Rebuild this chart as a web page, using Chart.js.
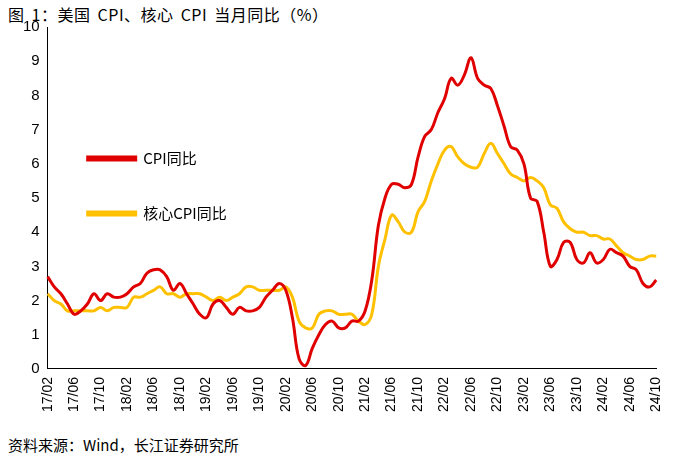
<!DOCTYPE html>
<html lang="zh">
<head>
<meta charset="UTF-8">
<script src="https://cdn.jsdelivr.net/npm/chart.js"></script>
<style>
  body { margin: 0; background: #fff; font-family: "Noto Sans CJK SC", sans-serif; }
  #title { position: absolute; left: 8px; top: 2px; font-size: 16px; color: #000; letter-spacing: 0.5px; word-spacing: 3px; }
  #wrap { position: absolute; left: 0; top: 15px; width: 676px; height: 400px; }
  #src { position: absolute; left: 8px; top: 434px; font-size: 15px; color: #000; }
</style>
</head>
<body>
<div id="title">图 1：美国 CPI、核心 CPI 当月同比（%）</div>
<div id="wrap"><canvas id="c"></canvas></div>
<div id="src">资料来源：Wind，长江证券研究所</div>
<script>
const months = [];
for (let y = 17; y <= 24; y++) for (let m = 1; m <= 12; m++) {
  if ((y === 17 && m < 2) || (y === 24 && m > 10)) continue;
  months.push(y + '/' + String(m).padStart(2, '0'));
}
const cpi = [2.7,2.4,2.2,1.9,1.6,1.7,1.9,2.2,2.0,2.2,2.1,
  2.1,2.2,2.4,2.5,2.8,2.9,2.9,2.7,2.3,2.5,2.2,1.9,
  1.6,1.5,1.9,2.0,1.8,1.6,1.8,1.7,1.7,1.8,2.1,2.3,
  2.5,2.3,1.5,0.3,0.1,0.6,1.0,1.3,1.4,1.2,1.2,1.4,
  1.4,1.7,2.6,4.2,5.0,5.4,5.4,5.3,5.4,6.2,6.8,7.0,
  7.5,7.9,8.5,8.3,8.6,9.1,8.5,8.3,8.2,7.7,7.1,6.5,
  6.4,6.0,5.0,4.9,4.0,3.0,3.2,3.7,3.7,3.2,3.1,3.4,
  3.1,3.2,3.5,3.4,3.3,3.0,2.9,2.5,2.4,2.6];
const core = [2.2,2.0,1.9,1.7,1.7,1.7,1.7,1.7,1.8,1.7,1.8,
  1.8,1.8,2.1,2.1,2.2,2.3,2.4,2.2,2.2,2.1,2.2,2.2,
  2.2,2.1,2.0,2.1,2.0,2.1,2.2,2.4,2.4,2.3,2.3,2.3,
  2.3,2.4,2.1,1.4,1.2,1.2,1.6,1.7,1.7,1.6,1.6,1.6,
  1.4,1.3,1.6,3.0,3.8,4.5,4.3,4.0,4.0,4.6,4.9,5.5,
  6.0,6.4,6.5,6.2,6.0,5.9,5.9,6.3,6.6,6.3,6.0,5.7,
  5.6,5.5,5.6,5.5,5.3,4.8,4.7,4.3,4.1,4.0,4.0,3.9,
  3.9,3.8,3.8,3.6,3.4,3.3,3.2,3.2,3.3,3.3];

new Chart(document.getElementById('c'), {
  type: 'line',
  data: {
    labels: months,
    datasets: [
      { label: 'CPI同比', data: cpi, borderColor: '#e00000', backgroundColor: '#e00000', borderWidth: 3, pointRadius: 0, tension: 0.4 },
      { label: '核心CPI同比', data: core, borderColor: '#ffc000', backgroundColor: '#ffc000', borderWidth: 3, pointRadius: 0, tension: 0.4 }
    ]
  },
  options: {
    responsive: true, maintainAspectRatio: false, animation: false,
    layout: { padding: { left: 20, right: 6, top: 2, bottom: 0 } },
    plugins: {
      legend: {
        position: 'chartArea', align: 'center',
        labels: { boxWidth: 48, boxHeight: 3, font: { size: 15, family: 'Noto Sans CJK SC' }, color: '#000', padding: 40 }
      },
      tooltip: { enabled: false }
    },
    scales: {
      x: {
        grid: { display: false, drawTicks: true, tickLength: 5 },
        border: { color: '#000' },
        ticks: {
          autoSkip: false, maxRotation: 90, minRotation: 90, color: '#000',
          font: { size: 14, family: 'Liberation Sans' },
          callback: (v, i) => i % 4 === 0 ? months[i] : ''
        }
      },
      y: {
        min: 0, max: 10,
        grid: { display: false, tickLength: 5 },
        border: { color: '#000' },
        ticks: { stepSize: 1, color: '#000', font: { size: 15, family: 'Liberation Sans' } }
      }
    }
  }
});
</script>
</body>
</html>
